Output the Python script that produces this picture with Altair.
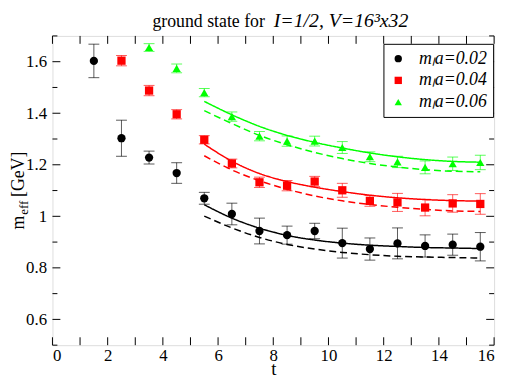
import altair as alt
import pandas as pd

FONT = "Liberation Serif"

# ---------------- data ----------------
series_labels = ["mₗa=0.02", "mₗa=0.04", "mₗa=0.06"]
series_colors = ["#000000", "#ff0000", "#00ff00"]
series_shapes = ["circle", "square", "triangle-up"]

t_black = [1.5, 2.5, 3.5, 4.5, 5.5, 6.5, 7.5, 8.5, 9.5, 10.5, 11.5, 12.5, 13.5, 14.5, 15.5]
m_black = [1.603, 1.303, 1.228, 1.168, 1.070, 1.009, 0.943, 0.927, 0.943, 0.896, 0.873, 0.895, 0.885, 0.890, 0.882]
e_black = [0.065, 0.070, 0.025, 0.040, 0.023, 0.042, 0.050, 0.035, 0.030, 0.058, 0.043, 0.060, 0.043, 0.041, 0.055]

t_red = [2.5, 3.5, 4.5, 5.5, 6.5, 7.5, 8.5, 9.5, 10.5, 11.5, 12.5, 13.5, 14.5, 15.5]
m_red = [1.604, 1.488, 1.396, 1.297, 1.205, 1.132, 1.119, 1.135, 1.101, 1.060, 1.054, 1.034, 1.050, 1.048]
e_red = [0.020, 0.020, 0.018, 0.016, 0.017, 0.020, 0.020, 0.020, 0.027, 0.021, 0.035, 0.032, 0.034, 0.040]

t_green = [3.5, 4.5, 5.5, 6.5, 7.5, 8.5, 9.5, 10.5, 11.5, 12.5, 13.5, 14.5, 15.5]
m_green = [1.655, 1.574, 1.480, 1.387, 1.311, 1.292, 1.292, 1.267, 1.231, 1.211, 1.190, 1.204, 1.209]
e_green = [0.015, 0.017, 0.016, 0.018, 0.018, 0.020, 0.019, 0.023, 0.019, 0.022, 0.025, 0.026, 0.028]

t_fit = [5.5, 6.5, 7.5, 8.5, 9.5, 10.5, 11.5, 12.5, 13.5, 14.5, 15.5]
black_solid = [1.045, 0.993, 0.954, 0.926, 0.908, 0.896, 0.888, 0.883, 0.879, 0.877, 0.875]
black_dash = [1.001, 0.955, 0.918, 0.891, 0.873, 0.860, 0.851, 0.845, 0.842, 0.840, 0.838]
red_solid = [1.280, 1.214, 1.166, 1.135, 1.113, 1.096, 1.082, 1.072, 1.065, 1.061, 1.059]
red_dash = [1.235, 1.180, 1.138, 1.105, 1.079, 1.060, 1.046, 1.035, 1.027, 1.021, 1.019]
green_solid = [1.446, 1.394, 1.349, 1.314, 1.287, 1.265, 1.246, 1.231, 1.220, 1.213, 1.210]
green_dash = [1.410, 1.360, 1.314, 1.278, 1.248, 1.224, 1.205, 1.191, 1.181, 1.175, 1.173]

x_ticks = [0, 1, 2, 3, 4, 5, 6, 7, 8, 9, 10, 11, 12, 13, 14, 15, 16]
y_major = [0.6, 0.8, 1.0, 1.2, 1.4, 1.6]
y_minor = [0.5, 0.7, 0.9, 1.1, 1.3, 1.5, 1.7]

title_plain = "ground state for"
title_italic = "I=1/2, V=16³x32"
ylab_main = "m"
ylab_sub = "eff"
ylab_unit = "[GeV]"

# ---------------- tables ----------------
rows = []
for lab, ts, ms, es in [(series_labels[0], t_black, m_black, e_black),
                        (series_labels[1], t_red, m_red, e_red),
                        (series_labels[2], t_green, m_green, e_green)]:
    for t, m, e in zip(ts, ms, es):
        rows.append({"t": t, "m": m, "lo": m - e, "hi": m + e, "series": lab})
pts = pd.DataFrame(rows)

caps = pd.concat([pts[["t", "lo", "series"]].rename(columns={"lo": "y"}),
                  pts[["t", "hi", "series"]].rename(columns={"hi": "y"})])

lrows = []
for lab, s, d in [(series_labels[0], black_solid, black_dash),
                  (series_labels[1], red_solid, red_dash),
                  (series_labels[2], green_solid, green_dash)]:
    for t, a, b in zip(t_fit, s, d):
        lrows.append({"t": t, "m": a, "series": lab, "kind": "solid", "grp": lab + "s"})
        lrows.append({"t": t, "m": b, "series": lab, "kind": "dashed", "grp": lab + "d"})
lines = pd.DataFrame(lrows)

xt = pd.DataFrame({"v": x_ticks})
ymaj = pd.DataFrame({"v": y_major})
ymin = pd.DataFrame({"v": y_minor})
one = pd.DataFrame({"a": [0]})

W, H = 447, 313
xs = alt.Scale(domain=[0, 16], nice=False, zero=False)
ys = alt.Scale(domain=[0.5, 1.7], nice=False, zero=False)
cs = alt.Scale(domain=series_labels, range=series_colors)
ss = alt.Scale(domain=series_labels, range=series_shapes)

xaxis = alt.Axis(values=x_ticks, ticks=False, domain=False, grid=False, labelFont=FONT,
                 labelFontSize=17, labelColor="black", labelPadding=3, title="t",
                 titleFont=FONT, titleFontSize=19, titleFontWeight="normal",
                 titleColor="black", titlePadding=-4)
yaxis = alt.Axis(values=y_major, ticks=False, domain=False, grid=False, format="~g",
                 labelFont=FONT, labelFontSize=17, labelColor="black", labelPadding=6,
                 title=None)

err = alt.Chart(pts).mark_rule(strokeWidth=1, opacity=0.65).encode(
    x=alt.X("t:Q", scale=xs, axis=xaxis),
    y=alt.Y("lo:Q", scale=ys, axis=yaxis),
    y2="hi:Q",
    color=alt.Color("series:N", scale=cs, legend=None),
)
cap = alt.Chart(caps).mark_tick(orient="horizontal", size=11, thickness=1, opacity=0.65).encode(
    x=alt.X("t:Q", scale=xs),
    y=alt.Y("y:Q", scale=ys),
    color=alt.Color("series:N", scale=cs, legend=None),
)
fit = alt.Chart(lines).mark_line(strokeWidth=1.5, interpolate="monotone").encode(
    x=alt.X("t:Q", scale=xs),
    y=alt.Y("m:Q", scale=ys),
    color=alt.Color("series:N", scale=cs, legend=None),
    strokeDash=alt.StrokeDash("kind:N", scale=alt.Scale(domain=["solid", "dashed"],
                                                        range=[[1, 0], [7, 4]]), legend=None),
    detail="grp:N",
)
points = alt.Chart(pts).mark_point(filled=True, opacity=1, size=70).encode(
    x=alt.X("t:Q", scale=xs),
    y=alt.Y("m:Q", scale=ys),
    color=alt.Color("series:N", scale=cs, legend=alt.Legend(
        orient="none", legendX=335, legendY=8, title=None, labelFont=FONT,
        labelFontStyle="italic", labelFontSize=18, labelColor="black", symbolSize=55,
        strokeColor="black", fillColor="white", padding=6, rowPadding=4,
        labelOffset=12, symbolStrokeWidth=0)),
    shape=alt.Shape("series:N", scale=ss),
)

# inward ticks on all four sides
tb = alt.Chart(xt).mark_rule(color="black", strokeWidth=1).encode(
    x=alt.X("v:Q", scale=xs), y=alt.value(H), y2=alt.value(H - 8))
tt = alt.Chart(xt).mark_rule(color="black", strokeWidth=1).encode(
    x=alt.X("v:Q", scale=xs), y=alt.value(0), y2=alt.value(8))
tl = alt.Chart(ymaj).mark_rule(color="black", strokeWidth=1).encode(
    y=alt.Y("v:Q", scale=ys), x=alt.value(0), x2=alt.value(8))
tr = alt.Chart(ymaj).mark_rule(color="black", strokeWidth=1).encode(
    y=alt.Y("v:Q", scale=ys), x=alt.value(W), x2=alt.value(W - 8))
tl2 = alt.Chart(ymin).mark_rule(color="black", strokeWidth=1).encode(
    y=alt.Y("v:Q", scale=ys), x=alt.value(0), x2=alt.value(5))
tr2 = alt.Chart(ymin).mark_rule(color="black", strokeWidth=1).encode(
    y=alt.Y("v:Q", scale=ys), x=alt.value(W), x2=alt.value(W - 5))

# title and y label as text
t1 = alt.Chart(one).mark_text(font=FONT, fontSize=18, align="right", baseline="alphabetic",
                              color="black").encode(
    x=alt.value(215), y=alt.value(-9), text=alt.value(title_plain))
t2 = alt.Chart(one).mark_text(font=FONT, fontSize=20, fontStyle="italic", align="left",
                              baseline="alphabetic", color="black").encode(
    x=alt.value(224), y=alt.value(-9), text=alt.value(title_italic))
yl1 = alt.Chart(one).mark_text(font=FONT, fontSize=18, angle=270, align="left",
                               baseline="alphabetic", color="black").encode(
    x=alt.value(-29), y=alt.value(196), text=alt.value(ylab_main))
yl2 = alt.Chart(one).mark_text(font=FONT, fontSize=13, angle=270, align="left",
                               baseline="alphabetic", color="black").encode(
    x=alt.value(-25), y=alt.value(181), text=alt.value(ylab_sub))
yl3 = alt.Chart(one).mark_text(font=FONT, fontSize=18, angle=270, align="left",
                               baseline="alphabetic", color="black").encode(
    x=alt.value(-29), y=alt.value(163), text=alt.value(ylab_unit))

chart = alt.layer(err, cap, fit, points, tb, tt, tl, tr, tl2, tr2, t1, t2, yl1, yl2, yl3).resolve_scale(
    color="independent", strokeDash="independent", shape="independent"
).properties(
    width=W, height=H,
    autosize=alt.AutoSizeParams(type="none"),
    padding={"left": 45, "top": 26, "right": 8, "bottom": 34},
).configure_view(stroke="black", strokeWidth=2).configure_axis(
    labelFont=FONT, titleFont=FONT
).configure(background="white")

chart.save("out.html", embed_options={"renderer": "svg", "actions": False})
